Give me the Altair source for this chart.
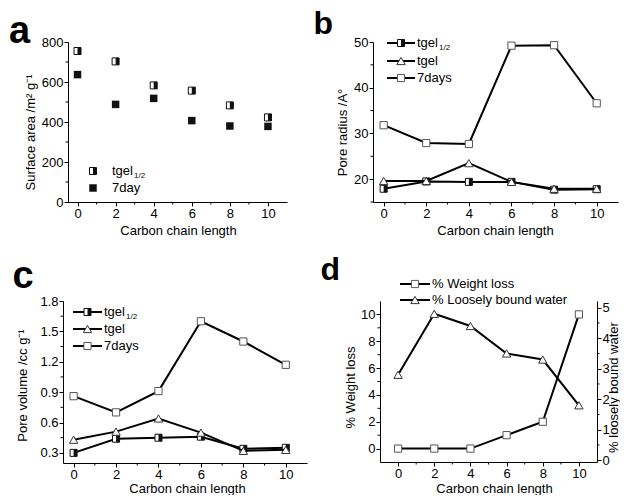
import altair as alt
import pandas as pd

# ---------------- data ----------------
chain = [0, 2, 4, 6, 8, 10]

sa_tgel_half = [755, 703, 583, 557, 483, 423]
sa_7day = [637, 488, 518, 407, 380, 378]

pr_tgel_half = [17.9, 19.5, 19.4, 19.4, 17.7, 17.8]
pr_tgel = [19.6, 19.6, 23.5, 19.4, 17.9, 17.9]
pr_7days = [31.8, 27.9, 27.7, 49.2, 49.3, 36.6]

pv_tgel_half = [0.30, 0.44, 0.45, 0.46, 0.34, 0.35]
pv_tgel = [0.43, 0.51, 0.64, 0.50, 0.32, 0.33]
pv_7days = [0.86, 0.70, 0.91, 1.60, 1.40, 1.17]

weight_loss = [0, 0, 0, 1, 2, 10]
loose_water = [2.8, 4.8, 4.4, 3.5, 3.3, 1.8]

x_ticks = [0, 2, 4, 6, 8, 10]
x_minor = [1, 3, 5, 7, 9]
sa_ticks = [0, 200, 400, 600, 800]
sa_minor = [100, 300, 500, 700]
pr_ticks = [20, 30, 40, 50]
pr_minor = [15, 25, 35, 45]
pv_ticks = [0.3, 0.6, 0.9, 1.2, 1.5, 1.8]
pv_minor = [0.45, 0.75, 1.05, 1.35, 1.65]
wl_ticks = [0, 2, 4, 6, 8, 10]
wl_minor = [1, 3, 5, 7, 9]
lw_ticks = [0, 1, 2, 3, 4, 5]
lw_minor = [0.5, 1.5, 2.5, 3.5, 4.5]

FONT = "Liberation Sans"
HALF = "M0,-1L1,-1L1,1L0,1Z"
ONE = pd.DataFrame({"k": [0]})


def sdf(vals):
    return pd.DataFrame({"x": chain, "y": vals})


def markers(data, enc, kind):
    c = alt.Chart(data)
    if kind == "half":
        return [
            c.mark_point(shape="square", size=49, filled=True, fill="white",
                         stroke="#111", strokeWidth=1, opacity=1).encode(**enc),
            c.mark_point(shape=HALF, size=49, filled=True, fill="#111",
                         strokeWidth=0, opacity=1).encode(**enc),
        ]
    if kind == "filled":
        return [c.mark_point(shape="square", size=56, filled=True, fill="#111",
                             opacity=1).encode(**enc)]
    if kind == "open":
        return [c.mark_point(shape="square", size=52, filled=True, fill="white",
                             stroke="#555", strokeWidth=1, opacity=1).encode(**enc)]
    return [c.mark_point(shape="triangle-up", size=70, filled=True, fill="white",
                         stroke="#333", strokeWidth=1, opacity=1).encode(**enc)]


def legend_entry(lx1, lx2, mx, tx, y, kind, label, sub=None, line=True):
    layers = []
    if line:
        layers.append(alt.Chart(ONE).mark_rule(color="black", strokeWidth=2).encode(
            x=alt.value(lx1), x2=alt.value(lx2), y=alt.value(y)))
    layers += markers(ONE, dict(x=alt.value(mx), y=alt.value(y)), kind)
    layers.append(alt.Chart(ONE).mark_text(
        text=label, align="left", baseline="middle", font=FONT, fontSize=13,
        color="black").encode(x=alt.value(tx), y=alt.value(y)))
    if sub:
        layers.append(alt.Chart(ONE).mark_text(
            text=sub, align="left", baseline="middle", font=FONT, fontSize=8,
            color="black").encode(x=alt.value(tx + 22), y=alt.value(y + 5)))
    return layers


def letter(ch, x, y, size):
    return alt.Chart(ONE).mark_text(
        text=ch, align="left", baseline="alphabetic", font=FONT, fontSize=size,
        fontWeight="bold", color="black").encode(x=alt.value(x), y=alt.value(y))


def x_enc(dom, tx, ty, base="middle"):
    return alt.X("x:Q", scale=alt.Scale(domain=dom, nice=False, zero=False),
                 axis=alt.Axis(values=x_ticks, title="Carbon chain length",
                               titleX=tx, titleY=ty, titleBaseline=base,
                               titleAlign="center", orient="bottom",
                               labelFlush=False, labelOverlap=False))


def y_enc(dom, ticks, title, tx, ty, fmt="d", orient="left"):
    return alt.Y("y:Q", scale=alt.Scale(domain=dom, nice=False, zero=False),
                 axis=alt.Axis(values=ticks, title=title, titleX=tx, titleY=ty,
                               titleAngle=270, titleBaseline="middle",
                               titleAlign="center", orient=orient, format=fmt,
                               labelFlush=False, labelOverlap=False))


def minor_x(vals, X, h):
    return alt.Chart(pd.DataFrame({"x": vals})).mark_rule(
        color="black", strokeWidth=1).encode(x=X, y=alt.value(h), y2=alt.value(h + 2.5))


def minor_y(vals, Y, x1, x2):
    return alt.Chart(pd.DataFrame({"y": vals})).mark_rule(
        color="black", strokeWidth=1).encode(y=Y, x=alt.value(x1), x2=alt.value(x2))


def series(vals, X, Y, kind, line=True):
    d = sdf(vals)
    layers = []
    if line:
        layers.append(alt.Chart(d).mark_line(color="black", strokeWidth=2).encode(x=X, y=Y))
    layers += markers(d, dict(x=X, y=Y), kind)
    return layers


# ---------------- panel a ----------------
WA, HA = 219, 160
Xa = x_enc([-0.5, 11], 110, 28)
Ya = y_enc([0, 800], sa_ticks, "Surface area /m\u00b2 g\u207b\u00b9", -38, 90)
la = []
la += series(sa_tgel_half, Xa, Ya, "half", line=False)
la += series(sa_7day, Xa, Ya, "filled", line=False)
la += [minor_x(x_minor, Xa, HA), minor_y(sa_minor, Ya, 0, -2.5)]
la += legend_entry(0, 0, 25, 44, 129, "half", "tgel", sub="1/2", line=False)
la += legend_entry(0, 0, 25, 44, 146, "filled", "7day", line=False)
la += [letter("a", -59, 1, 38)]
panel_a = alt.layer(*la).properties(width=WA, height=HA)

# ---------------- panel b ----------------
WB, HB = 245, 160
Xb = x_enc([-0.5, 11], 122, 28)
Yb = y_enc([15, 50], pr_ticks, "Pore radius /A\u00b0", -31, 90)
lb = []
lb += series(pr_tgel_half, Xb, Yb, "half")
lb += series(pr_tgel, Xb, Yb, "tri")
lb += series(pr_7days, Xb, Yb, "open")
lb += [minor_x(x_minor, Xb, HB), minor_y(pr_minor, Yb, 0, -2.5)]
lb += legend_entry(14, 42, 28, 44, 1, "half", "tgel", sub="1/2")
lb += legend_entry(14, 42, 28, 44, 19, "tri", "tgel")
lb += legend_entry(14, 42, 28, 44, 36, "open", "7days")
lb += [letter("b", -59.5, -8, 32)]
panel_b = alt.layer(*lb).properties(width=WB, height=HB)

# ---------------- panel c ----------------
WC, HC = 244, 162
Xc = x_enc([-0.5, 11], 124, 29, base="alphabetic")
Yc = y_enc([0.2, 1.8], pv_ticks, "Pore volume /cc g\u207b\u00b9", -41, 84, fmt=".1f")
lc = []
lc += series(pv_tgel_half, Xc, Yc, "half")
lc += series(pv_tgel, Xc, Yc, "tri")
lc += series(pv_7days, Xc, Yc, "open")
lc += [minor_x(x_minor, Xc, HC), minor_y(pv_minor, Yc, 0, -2.5)]
lc += legend_entry(10, 39, 24.5, 41, 11, "half", "tgel", sub="1/2")
lc += legend_entry(10, 39, 24.5, 41, 28, "tri", "tgel")
lc += legend_entry(10, 39, 24.5, 41, 45, "open", "7days")
lc += [letter("c", -50.5, -13, 38)]
panel_c = alt.layer(*lc).properties(width=WC, height=HC)

# ---------------- panel d ----------------
WD, HD = 217, 161
Xd = x_enc([-1, 11], 114, 30, base="alphabetic")
Yl = y_enc([-1, 11], wl_ticks, "% Weight loss", -30, 86)
Yr = y_enc([-0.06, 5.22], lw_ticks, "% loosely bound water", 16, 86, orient="right")
left = []
left += series(weight_loss, Xd, Yl, "open")
left += [minor_x(wl_minor, Xd, HD), minor_y(wl_minor, Yl, 0, -2.5)]
left += legend_entry(20, 50, 35, 52, -17, "open", "% Weight loss")
left += legend_entry(20, 50, 35, 52, -1, "tri", "% Loosely bound water")
left += [letter("d", -59.5, -21, 32)]
right = []
right += series(loose_water, Xd, Yr, "tri")
right += [minor_y(lw_minor, Yr, WD, WD + 2.5)]
panel_d = alt.layer(alt.layer(*left), alt.layer(*right)).resolve_scale(
    y="independent").properties(width=WD, height=HD)


def spacer(w, h):
    return alt.Chart(ONE).mark_point(opacity=0).encode(
        x=alt.value(0), y=alt.value(0)).properties(width=w, height=h)


row1 = alt.hconcat(spacer(5, 160), panel_a, spacer(86, 160), panel_b,
                   spacing=0, bounds="flush")
row2 = alt.hconcat(panel_c, spacer(73, 162), panel_d, spacing=0, bounds="flush")

chart = alt.vconcat(row1, row2, spacing=17).properties(
    padding={"left": 1, "top": 0, "right": 0, "bottom": 0}
).configure_view(stroke=None).configure_axis(
    grid=False, domainColor="black", tickColor="black", labelColor="black",
    titleColor="black", labelFont=FONT, titleFont=FONT, labelFontSize=13,
    titleFontSize=13, titleFontWeight="normal", tickSize=4, labelPadding=1,
    domainWidth=1, tickWidth=1,
).configure_text(font=FONT)

chart.save("out.html", embed_options={"renderer": "svg", "actions": False})
